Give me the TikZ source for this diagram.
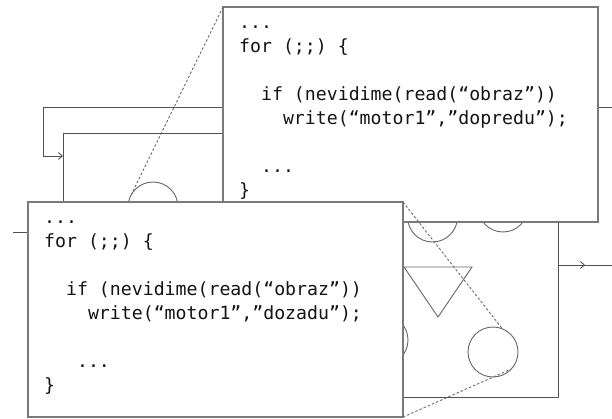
\documentclass[tikz,border=0pt]{standalone}
\usepackage{fontspec}
\newfontfamily\codefont{DejaVu Sans Mono}
\usetikzlibrary{arrows.meta,decorations.markings}

\tikzset{
  diag/.style={draw=black!68, line width=0.9pt},
  shapeln/.style={draw=black!60, line width=0.9pt},
  codebox/.style={draw=black!52, line width=1.4pt, fill=white, rectangle,
    minimum width=375pt, minimum height=215pt, inner sep=0pt, outer sep=0pt},
  codeline/.style={anchor=base west, inner sep=0pt, text=black!92,
    font=\codefont\fontsize{18.2pt}{24pt}\selectfont},
  ball/.style={circle, shapeln, minimum size=50pt, inner sep=0pt, outer sep=0pt},
  zoomln/.style={draw=black!58, line width=0.9pt, dash pattern=on 2.5pt off 2pt},
  tip/.style={-{Straight Barb[length=4pt,width=7pt]}},
  midtip/.style={postaction={decorate}, decoration={markings,
    mark=at position 0.5 with {\arrow{Straight Barb[length=4pt,width=7pt]}}}}
}

\begin{document}
\begin{tikzpicture}[x=1pt, y=-1pt]
\useasboundingbox (0,0) rectangle (612,419);

% the controlled system with its objects
\node[diag, rectangle, minimum width=495pt, minimum height=264pt,
      inner sep=0pt, outer sep=0pt] (robot) at (310.5,265) {};
\node[ball] (c1) at (153,207) {};
\node[ball] (c2) at (432.5,217) {};
\node[ball] (c3) at (503,207) {};
\node[ball] (c4) at (383,340) {};
\node[ball] (c5) at (493,352) {};
\coordinate (tr1) at (404,267);
\coordinate (tr2) at (472,267);
\coordinate (tr3) at (438,317);
\draw[shapeln] (tr1) -- (tr2) -- (tr3) -- cycle;

% feedback loop, input and output
\coordinate (fbR) at (612,107);
\coordinate (fbL) at (43,107);
\coordinate (loopin) at (63,156);
\draw[diag, tip] (fbR) -- (fbL) |- (loopin);
\coordinate (inL) at (13,232);
\draw[diag, tip] (inL) -- (robot.west |- inL);
\coordinate (outR) at (612,265);
\draw[diag, midtip] (robot.east) -- (outR);

% program shown in the upper window
\node[codebox] (tbox) at (410.5,114.5) {};
\node[codeline] (ta1) at (239,29)    {...};
\node[codeline] (ta2) at (239,52.9)  {for (;;) \{};
\node[codeline] (ta3) at (239,100.7) {\phantom{xx}if (nevidime(read(“obraz”))};
\node[codeline] (ta4) at (239,124.6) {\phantom{xxxx}write(“motor1”,”dopredu”);};
\node[codeline] (ta5) at (239,172.4) {\phantom{xx}...};
\node[codeline] (ta6) at (239,196.3) {\}};

% program shown in the lower window
\node[codebox] (bbox) at (215.5,309.5) {};
\node[codeline] (tb1) at (44,224)    {...};
\node[codeline] (tb2) at (44,247.9)  {for (;;) \{};
\node[codeline] (tb3) at (44,295.7)  {\phantom{xx}if (nevidime(read(“obraz”))};
\node[codeline] (tb4) at (44,319.6)  {\phantom{xxxx}write(“motor1”,”dozadu”);};
\node[codeline] (tb5) at (44,367.4)  {\phantom{xxx}...};
\node[codeline] (tb6) at (44,391.3)  {\}};

% zoom guides from the objects to their windows
\draw[zoomln] (tbox.north west) -- (c1.150);
\draw[zoomln] (bbox.north east) -- (c5.68);
\draw[zoomln] (bbox.south east) -- (c5.-43);
\end{tikzpicture}
\end{document}
